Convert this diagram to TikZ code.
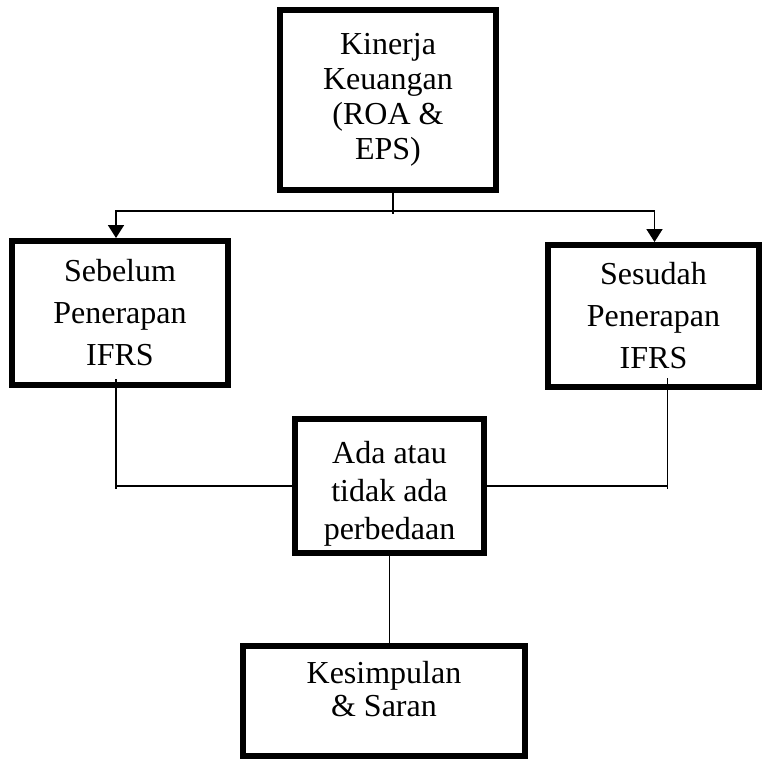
\documentclass[tikz,border=0pt]{standalone}
\usepackage{fontspec}
\setmainfont{Liberation Serif}
\usetikzlibrary{arrows.meta}
\begin{document}
\begin{tikzpicture}[
  x=1pt, y=-1pt,
  box/.style={draw, line width=6pt, align=center, inner sep=2pt, font=\fontsize{32}{35}\selectfont},
  tallbox/.style={box, font=\fontsize{32}{42}\selectfont},
  link/.style={line width=1.8pt},
  arrow/.style={link, -{Triangle[length=13pt,width=16pt]}}
]
  \useasboundingbox (0,0) rectangle (763,758);
  \node[box, minimum width=216pt, minimum height=180pt] (kk) at (388,100) {Kinerja\\Keuangan\\(ROA \&\\EPS)};
  \node[tallbox, minimum width=216pt, minimum height=144pt] (sebelum) at (120,313) {Sebelum\\Penerapan\\IFRS};
  \node[tallbox, minimum width=211pt, minimum height=142pt] (sesudah) at (653.5,316) {Sesudah\\Penerapan\\IFRS};
  \node[box, font=\fontsize{32}{38}\selectfont, minimum width=189pt, minimum height=134pt, text height=114pt] (ada) at (389.5,486) {Ada atau\\tidak ada\\perbedaan};
  \node[box, font=\fontsize{32}{33}\selectfont, minimum width=282pt, minimum height=110pt, text depth=25pt] (kesim) at (384,701) {Kesimpulan\\\& Saran};
  % connectors
  \coordinate (split) at (393,211);
  \coordinate (left) at ([xshift=-4pt,yshift=9pt]sebelum.south);
  \coordinate (right) at ([xshift=14pt,yshift=12pt]sesudah.south);
  \draw[link] ([xshift=5pt]kk.south) -- ([yshift=-3pt]split);
  \draw[arrow] (split) -| ([xshift=-4pt]sebelum.north);
  \draw[arrow] (split) -| ([xshift=1pt]sesudah.north);
  \draw[link] (left) -- ([yshift=-3pt]left |- ada.west);
  \draw[link] (left |- ada.west) -- (ada.west);
  \draw[link] (right) -- ([yshift=-3pt]right |- ada.east);
  \draw[link] (right |- ada.east) -- (ada.east);
  \draw[link] (ada.south) -- (ada.south |- kesim.north);
\end{tikzpicture}
\end{document}
